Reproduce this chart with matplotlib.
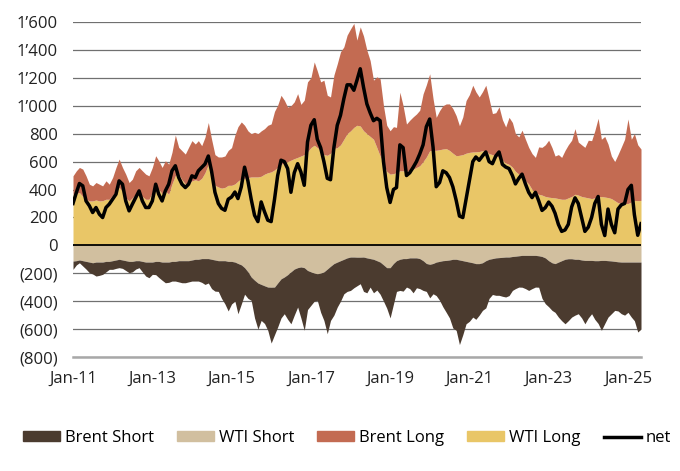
import numpy as np
import pandas as pd
import matplotlib.pyplot as plt
from matplotlib.ticker import FuncFormatter, MultipleLocator
from matplotlib.patches import Patch
from matplotlib.lines import Line2D

plt.rcParams['font.family'] = ['Open Sans', 'DejaVu Sans']

# monthly readings, Jan 2011 .. May 2025 (contracts, thousands)
dates = pd.date_range('2011-01-01', periods=173, freq='MS')

wti_long = [
    366, 372, 378, 350, 330, 318, 318, 325, 318, 320, 330, 330,
    360, 390, 414, 390, 340, 318, 340, 366, 366, 350, 330, 330,
    380, 420, 402, 370, 390, 366, 440, 500, 510, 470, 440, 438,
    462, 470, 462, 480, 520, 580, 520, 430, 418, 410, 415, 430,
    430, 440, 460, 478, 480, 485, 490, 490, 490, 495, 510, 520,
    526, 540, 560, 580, 590, 600, 610, 621, 630, 640, 650, 669,
    700, 717, 700, 680, 650, 645, 660, 693, 700, 720, 760, 800,
    820, 845, 860, 855, 821, 800, 780, 760, 700, 640, 580, 530,
    510, 514, 520, 534, 534, 530, 534, 545, 558, 570, 600, 633,
    678, 680, 681, 685, 690, 693, 680, 660, 642, 645, 650, 660,
    666, 669, 670, 672, 678, 678, 657, 650, 640, 630, 610, 590,
    580, 560, 530, 510, 490, 462, 440, 400, 380, 366, 360, 350,
    345, 342, 340, 335, 330, 330, 340, 350, 366, 360, 350, 345,
    340, 335, 340, 345, 350, 346, 342, 335, 320, 305, 300, 300,
    300, 310, 322, 320, 322,
]

brent_long = [
    132, 162, 180, 196, 168, 120, 108, 125, 120, 106, 132, 108,
    126, 168, 204, 168, 170, 132, 134, 168, 192, 184, 180, 168,
    178, 222, 204, 188, 216, 216, 226, 290, 192, 208, 214, 264,
    288, 256, 288, 234, 254, 300, 240, 220, 215, 223, 225, 250,
    270, 350, 390, 406, 380, 335, 310, 320, 310, 325, 326, 340,
    344, 420, 444, 495, 450, 390, 390, 407, 457, 370, 390, 502,
    500, 597, 550, 491, 533, 430, 403, 526, 600, 666, 662, 706,
    730, 745, 610, 710, 679, 598, 544, 423, 507, 553, 420, 330,
    311, 336, 325, 563, 466, 339, 362, 375, 383, 398, 485, 517,
    551, 370, 236, 280, 310, 320, 333, 320, 287, 212, 270, 377,
    414, 478, 430, 391, 422, 469, 393, 294, 310, 362, 290, 258,
    337, 320, 270, 267, 335, 298, 262, 257, 250, 339, 342, 370,
    408, 358, 300, 315, 300, 350, 380, 403, 470, 380, 370, 357,
    413, 415, 480, 565, 410, 434, 384, 305, 280, 345, 405, 460,
    605, 450, 478, 400, 368,
]

wti_short = [
    113, 110, 105, 110, 115, 120, 125, 120, 120, 120, 115, 115,
    110, 105, 100, 105, 110, 115, 115, 110, 110, 115, 120, 120,
    120, 115, 115, 120, 120, 120, 115, 115, 110, 110, 110, 110,
    105, 100, 100, 95, 95, 95, 100, 105, 110, 110, 110, 115,
    115, 120, 130, 140, 160, 190, 227, 250, 270, 280, 290, 299,
    300, 299, 270, 240, 227, 210, 190, 170, 160, 155, 160, 180,
    190, 200, 203, 200, 190, 170, 150, 131, 120, 110, 100, 90,
    84, 84, 85, 85, 84, 90, 95, 100, 110, 120, 140, 160,
    160, 130, 110, 100, 95, 95, 90, 90, 90, 95, 110, 130,
    136, 130, 120, 115, 110, 108, 105, 100, 100, 105, 110, 115,
    120, 125, 131, 131, 125, 110, 100, 95, 90, 88, 86, 84,
    84, 80, 78, 75, 72, 72, 72, 72, 72, 75, 80, 90,
    110, 125, 131, 120, 110, 100, 96, 96, 100, 100, 105, 108,
    108, 108, 110, 110, 108, 108, 110, 112, 115, 118, 120, 120,
    120, 120, 120, 120, 120,
]

brent_short = [
    59, 30, 20, 38, 55, 76, 80, 100, 95, 88, 75, 57,
    62, 60, 60, 60, 70, 81, 75, 60, 50, 75, 100, 112,
    88, 95, 115, 130, 148, 145, 141, 141, 152, 158, 158, 152,
    151, 156, 156, 170, 185, 175, 210, 223, 220, 270, 310, 355,
    305, 280, 360, 280, 190, 190, 167, 270, 330, 258, 270, 310,
    400, 341, 315, 280, 263, 320, 372, 330, 282, 365, 449, 280,
    240, 200, 191, 280, 348, 463, 388, 369, 322, 290, 247, 240,
    239, 220, 205, 190, 246, 250, 204, 240, 210, 230, 260, 290,
    360, 290, 220, 223, 233, 204, 220, 250, 214, 215, 213, 200,
    240, 217, 240, 279, 330, 372, 415, 492, 509, 606, 530, 447,
    424, 389, 399, 369, 341, 338, 280, 257, 268, 270, 279, 286,
    276, 243, 232, 224, 228, 238, 251, 238, 227, 225, 300, 328,
    330, 341, 349, 394, 430, 462, 444, 418, 400, 390, 415, 454,
    412, 382, 420, 450, 501, 452, 404, 378, 351, 352, 370, 380,
    360, 394, 420, 501, 480,
]

net = [
    300, 378, 443, 426, 318, 283, 235, 271, 223, 199, 271, 295,
    330, 366, 462, 438, 318, 247, 295, 342, 390, 318, 271, 271,
    318, 438, 366, 318, 390, 438, 534, 570, 486, 438, 414, 438,
    498, 486, 534, 558, 582, 640, 530, 380, 300, 265, 251, 330,
    346, 382, 335, 420, 560, 460, 330, 215, 170, 311, 240, 180,
    170, 330, 500, 610, 600, 550, 380, 520, 585, 526, 430, 740,
    860, 900, 760, 700, 600, 480, 470, 700, 860, 932, 1051, 1150,
    1150, 1111, 1181, 1265, 1133, 1013, 950, 893, 910, 893, 600, 414,
    307, 400, 414, 720, 700, 500, 520, 558, 600, 654, 720, 850,
    905, 702, 420, 450, 534, 520, 486, 420, 322, 210, 199, 330,
    466, 600, 633, 609, 640, 669, 600, 585, 640, 669, 580, 561,
    550, 500, 440, 480, 510, 440, 380, 342, 380, 320, 250, 270,
    310, 280, 230, 150, 100, 110, 150, 275, 340, 300, 200, 100,
    130, 200, 300, 350, 150, 70, 260, 150, 90, 260, 290, 300,
    400, 430, 220, 72, 155,
]

x_tick_years = [2011, 2013, 2015, 2017, 2019, 2021, 2023, 2025]

c_brent_short = '#4b3b2f'
c_wti_short = '#d1bf9f'
c_brent_long = '#c36b52'
c_wti_long = '#e9c667'

wl = np.array(wti_long)
bl = np.array(brent_long)
ws = np.array(wti_short)
bs = np.array(brent_short)

fig = plt.figure(figsize=(6.8, 4.71), dpi=100)
ax = fig.add_axes([73 / 680, 1 - 357 / 471, (641 - 73) / 680, (357 - 22) / 471])

ax.fill_between(dates, 0, wl, color=c_wti_long, lw=0, zorder=2)
ax.fill_between(dates, wl, wl + bl, color=c_brent_long, lw=0, zorder=2)
ax.fill_between(dates, 0, -ws, color=c_wti_short, lw=0, zorder=2)
ax.fill_between(dates, -ws, -(ws + bs), color=c_brent_short, lw=0, zorder=2)
ax.axhline(0, color='black', lw=1.3, zorder=3)
ax.plot(dates, net, color='black', lw=2.5, zorder=4, solid_joinstyle='round')

ax.set_xlim(dates[0], dates[-1])
ax.set_ylim(-800, 1600)
ax.yaxis.set_major_locator(MultipleLocator(200))


def fmt(v, pos):
    v = int(round(v))
    s = f"{abs(v):,}".replace(',', '\u2019')
    return f"({s})" if v < 0 else s


ax.yaxis.set_major_formatter(FuncFormatter(fmt))
ticks = [pd.Timestamp(f'{y}-01-01') for y in x_tick_years]
ax.set_xticks(ticks)
ax.set_xticklabels([f'Jan-{str(y)[2:]}' for y in x_tick_years])
ax.tick_params(axis='both', length=0, labelsize=12, colors='#222222')
ax.tick_params(axis='y', pad=11)
ax.tick_params(axis='x', pad=10)

ax.grid(axis='y', color='#707070', lw=0.9)
ax.set_axisbelow(True)
for s in ['top', 'left', 'right']:
    ax.spines[s].set_visible(False)
ax.spines['bottom'].set_color('#a8a8a8')
ax.spines['bottom'].set_linewidth(1.8)

handles = [
    Patch(color=c_brent_short), Patch(color=c_wti_short),
    Patch(color=c_brent_long), Patch(color=c_wti_long),
    Line2D([], [], color='black', lw=2.5),
]
labels = ['Brent Short', 'WTI Short', 'Brent Long', 'WTI Long', 'net']
fig.legend(handles, labels, loc='center', bbox_to_anchor=(347 / 680, 1 - 438 / 471),
           ncol=5, frameon=False, fontsize=12, handlelength=2.2, handleheight=0.55,
           handletextpad=0.3, columnspacing=1.4)

fig.savefig('out.png', dpi=100)
